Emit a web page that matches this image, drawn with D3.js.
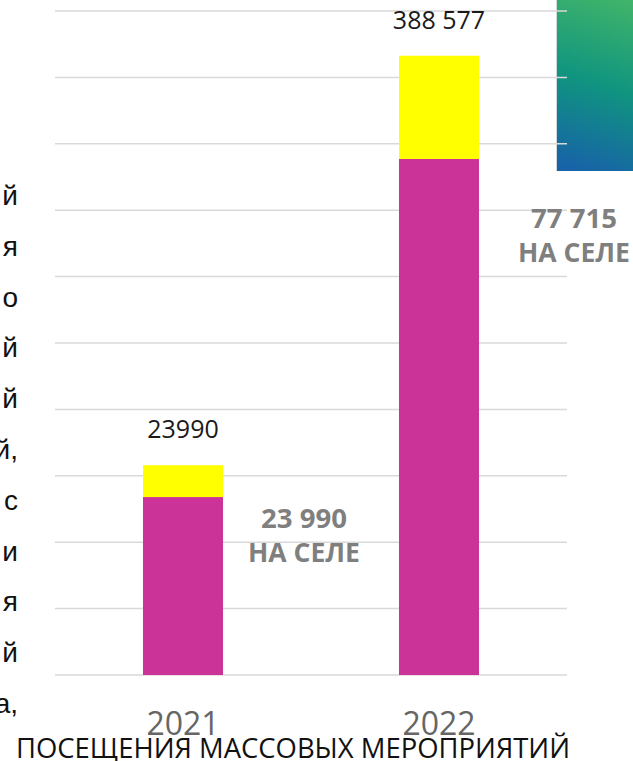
<!DOCTYPE html>
<html>
<head>
<meta charset="utf-8">
<script src="https://cdn.jsdelivr.net/npm/d3@7"></script>
<style>
  body { margin: 0; background: #fff; }
  svg { display: block; }
</style>
</head>
<body>
<svg></svg>
<script>
// data
var years = ["2021", "2022"];
var cityVisits = [134000, 388577];   // magenta part
var villageVisits = [23990, 77715];  // yellow part ("на селе")
var totalLabels = ["23990", "388 577"];
var villageLabels = ["23 990", "77 715"];
var gridTicks = d3.range(0, 500001, 50000);
// tail ends of the cut-off paragraph on the left
var sideText = ["й", "я", "о", "й", "й", "й,", "с", "и", "я", "й", "а,"];

var W = 633, H = 761;

var svg = d3.select("svg")
    .attr("width", W)
    .attr("height", H);

// gradient picture peeking in at the top right
var defs = svg.append("defs");
var grad = defs.append("linearGradient")
    .attr("id", "pic")
    .attr("gradientUnits", "userSpaceOnUse")
    .attr("x1", 633).attr("y1", 0)
    .attr("x2", 580).attr("y2", 171);
grad.append("stop").attr("offset", "0%").attr("stop-color", "#42b56a");
grad.append("stop").attr("offset", "50%").attr("stop-color", "#10957f");
grad.append("stop").attr("offset", "100%").attr("stop-color", "#1763a7");

svg.append("rect")
    .attr("x", 556).attr("y", 0)
    .attr("width", 77).attr("height", 171)
    .attr("fill", "url(#pic)");
svg.append("line")
    .attr("x1", 556.5).attr("x2", 556.5)
    .attr("y1", 0).attr("y2", 171)
    .attr("stroke", "#cfd8dc").attr("stroke-width", 1);

var x = d3.scaleBand()
    .domain(years)
    .range([55, 567])
    .paddingInner(0.6875)
    .paddingOuter(0.34375);

var y = d3.scaleLinear()
    .domain([0, 500000])
    .range([675, 11]);

// gridlines
svg.append("g")
    .selectAll("line")
    .data(gridTicks)
    .enter()
        .append("line")
        .attr("x1", 55)
        .attr("x2", 567)
        .attr("y1", function(d) { return y(d); })
        .attr("y2", function(d) { return y(d); })
        .attr("stroke", "#d9d9d9")
        .attr("stroke-width", 1.5);

// stacked bars
var bars = svg.append("g");
bars.selectAll("rect.city")
    .data(years)
    .enter()
        .append("rect")
        .attr("class", "city")
        .attr("x", function(d) { return x(d); })
        .attr("width", x.bandwidth())
        .attr("y", function(d, i) { return y(cityVisits[i]); })
        .attr("height", function(d, i) { return y(0) - y(cityVisits[i]); })
        .attr("fill", "#cc3399");

bars.selectAll("rect.village")
    .data(years)
    .enter()
        .append("rect")
        .attr("class", "village")
        .attr("x", function(d) { return x(d); })
        .attr("width", x.bandwidth())
        .attr("y", function(d, i) { return y(cityVisits[i] + villageVisits[i]); })
        .attr("height", function(d, i) { return y(0) - y(villageVisits[i]); })
        .attr("fill", "#ffff00");

// total labels above bars
svg.append("g")
    .selectAll("text")
    .data(years)
    .enter()
        .append("text")
        .attr("x", function(d) { return x(d) + x.bandwidth() / 2; })
        .attr("y", function(d, i) { return y(cityVisits[i] + villageVisits[i]) - 27; })
        .attr("text-anchor", "middle")
        .attr("font-family", "Open Sans")
        .attr("font-size", 25)
        .attr("fill", "#1a1a1a")
        .text(function(d, i) { return totalLabels[i]; });

// "на селе" annotations
var notePos = [[304, 528], [574, 228]];
var notes = svg.append("g")
    .attr("font-family", "Open Sans")
    .attr("font-weight", "bold")
    .attr("font-size", 26)
    .attr("fill", "#7f7f7f")
    .attr("text-anchor", "middle");
notePos.forEach(function(p, i) {
    notes.append("text").attr("x", p[0]).attr("y", p[1])
        .attr("textLength", 86).attr("lengthAdjust", "spacingAndGlyphs")
        .text(villageLabels[i]);
    notes.append("text").attr("x", p[0]).attr("y", p[1] + 34)
        .attr("textLength", 112).attr("lengthAdjust", "spacingAndGlyphs")
        .text("НА СЕЛЕ");
});

// category axis labels
svg.append("g")
    .selectAll("text")
    .data(years)
    .enter()
        .append("text")
        .attr("x", function(d) { return x(d) + x.bandwidth() / 2; })
        .attr("y", 735)
        .attr("text-anchor", "middle")
        .attr("font-family", "Open Sans")
        .attr("font-size", 32)
        .attr("fill", "#666666")
        .text(function(d) { return d; });

// chart title at the bottom
svg.append("text")
    .attr("x", 16)
    .attr("y", 758)
    .attr("font-family", "Open Sans")
    .attr("font-size", 27)
    .attr("fill", "#111111")
    .attr("textLength", 554)
    .attr("lengthAdjust", "spacingAndGlyphs")
    .text("ПОСЕЩЕНИЯ МАССОВЫХ МЕРОПРИЯТИЙ");

// cut-off paragraph
svg.append("g")
    .selectAll("text")
    .data(sideText)
    .enter()
        .append("text")
        .attr("x", 18)
        .attr("y", function(d, i) { return 205 + i * 50.8; })
        .attr("text-anchor", "end")
        .attr("font-family", "Liberation Sans")
        .attr("font-size", 28)
        .attr("fill", "#111111")
        .text(function(d) { return d; });
</script>
</body>
</html>
